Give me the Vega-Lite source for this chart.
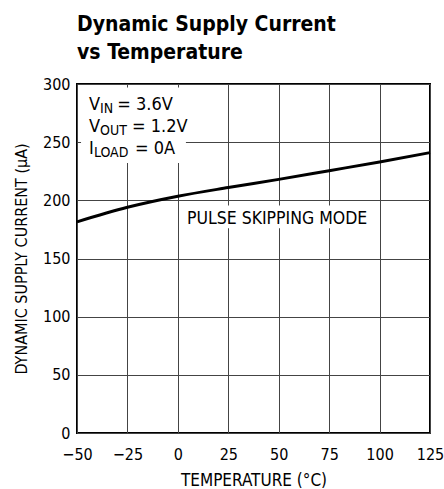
{
  "$schema": "https://vega.github.io/schema/vega-lite/v6.json",
  "width": 353,
  "height": 349,
  "autosize": {"type": "none"},
  "padding": {"left": 77, "top": 84, "right": 14, "bottom": 56},
  "background": "white",
  "config": {
    "font": "DejaVu Sans Condensed, sans-serif",
    "view": {"stroke": "black", "strokeWidth": 2},
    "axis": {"labelFont": "DejaVu Sans Condensed, sans-serif", "titleFont": "DejaVu Sans Condensed, sans-serif"}
  },
  "title": {
    "text": ["Dynamic Supply Current", "vs Temperature"],
    "anchor": "start",
    "frame": "group",
    "font": "DejaVu Sans Condensed, sans-serif",
    "fontSize": 21,
    "fontWeight": "bold",
    "color": "black",
    "lineHeight": 28,
    "offset": 13
  },
  "datasets": {
    "curve": [
      {"temp": -50, "current": 181.5},
      {"temp": -25, "current": 194},
      {"temp": 0, "current": 203.5},
      {"temp": 25, "current": 211},
      {"temp": 50, "current": 218},
      {"temp": 75, "current": 225.5},
      {"temp": 100, "current": 233},
      {"temp": 125, "current": 241}
    ],
    "boxes": [
      {"x1": -48, "x2": 4, "y1": 232, "y2": 297},
      {"x1": 3, "x2": 93, "y1": 176, "y2": 195.5}
    ],
    "labels": [
      {"t": "V", "x": -44.1, "y": 277.7, "kind": "main"},
      {"t": "IN", "x": -38.6, "y": 277.7, "kind": "sub"},
      {"t": "= 3.6V", "x": -30.0, "y": 277.7, "kind": "main"},
      {"t": "V", "x": -44.1, "y": 258.7, "kind": "main"},
      {"t": "OUT", "x": -38.6, "y": 258.7, "kind": "sub"},
      {"t": "= 1.2V", "x": -22.7, "y": 258.7, "kind": "main"},
      {"t": "I", "x": -44.1, "y": 239.8, "kind": "main"},
      {"t": "LOAD", "x": -41.6, "y": 239.8, "kind": "sub"},
      {"t": "= 0A", "x": -21.2, "y": 239.8, "kind": "main"},
      {"t": "PULSE SKIPPING MODE", "x": 49.2, "y": 179.7, "kind": "mode"}
    ]
  },
  "layer": [
    {
      "data": {"name": "boxes"},
      "mark": {"type": "rect", "fill": "white", "stroke": null},
      "encoding": {
        "x": {"field": "x1", "type": "quantitative", "scale": {"domain": [-50, 125], "nice": false},
          "axis": {"values": [-50, -25, 0, 25, 50, 75, 100, 125], "title": "TEMPERATURE (°C)", "grid": true, "gridColor": "#444", "gridWidth": 1, "gridOpacity": 1, "ticks": false, "domain": false, "labelFlush": false, "labelFontSize": 16, "labelColor": "black", "labelPadding": 13, "titleFontSize": 17, "titleFontWeight": "normal", "titleColor": "black", "titlePadding": 10}},
        "x2": {"field": "x2"},
        "y": {"field": "y1", "type": "quantitative", "scale": {"domain": [0, 300], "nice": false},
          "axis": {"values": [0, 50, 100, 150, 200, 250, 300], "title": "DYNAMIC SUPPLY CURRENT (µA)", "grid": true, "gridColor": "#444", "gridWidth": 1, "gridOpacity": 1, "ticks": false, "domain": false, "labelFlush": false, "labelFontSize": 16, "labelColor": "black", "labelPadding": 7, "titleFontSize": 16, "titleFontWeight": "normal", "titleColor": "black", "titlePadding": 13}},
        "y2": {"field": "y2"}
      }
    },
    {
      "data": {"name": "curve"},
      "mark": {"type": "line", "color": "black", "strokeWidth": 3, "interpolate": "monotone"},
      "encoding": {
        "x": {"field": "temp", "type": "quantitative"},
        "y": {"field": "current", "type": "quantitative"}
      }
    },
    {
      "data": {"name": "labels"},
      "transform": [{"filter": "datum.kind === 'main'"}],
      "mark": {"type": "text", "align": "left", "baseline": "alphabetic", "fontSize": 18, "color": "black"},
      "encoding": {
        "x": {"field": "x", "type": "quantitative"},
        "y": {"field": "y", "type": "quantitative"},
        "text": {"field": "t"}
      }
    },
    {
      "data": {"name": "labels"},
      "transform": [{"filter": "datum.kind === 'sub'"}],
      "mark": {"type": "text", "align": "left", "baseline": "alphabetic", "fontSize": 14, "dy": 3, "color": "black"},
      "encoding": {
        "x": {"field": "x", "type": "quantitative"},
        "y": {"field": "y", "type": "quantitative"},
        "text": {"field": "t"}
      }
    },
    {
      "data": {"name": "labels"},
      "transform": [{"filter": "datum.kind === 'mode'"}],
      "mark": {"type": "text", "align": "center", "baseline": "alphabetic", "fontSize": 17.5, "color": "black"},
      "encoding": {
        "x": {"field": "x", "type": "quantitative"},
        "y": {"field": "y", "type": "quantitative"},
        "text": {"field": "t"}
      }
    }
  ]
}
